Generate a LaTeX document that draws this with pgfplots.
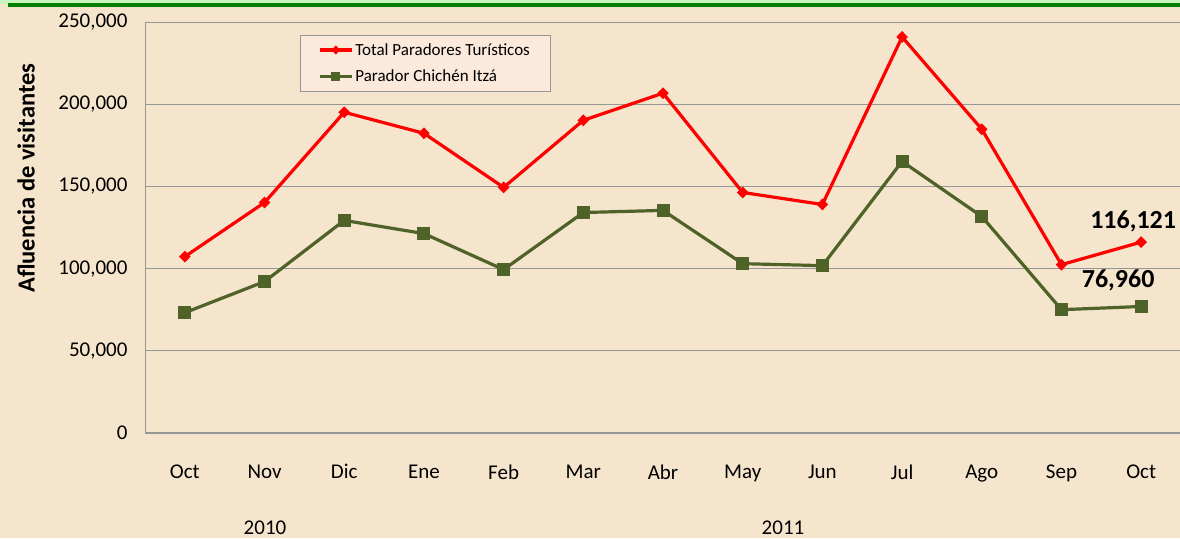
\documentclass[border=0pt]{standalone}
\usepackage{pgfplots}
\pgfplotsset{compat=1.18}
\usepackage{fontspec}
\setmainfont{Carlito}
\definecolor{bg}{RGB}{245,229,204}
\definecolor{olivec}{RGB}{79,98,40}
\definecolor{gridc}{RGB}{150,150,150}
\definecolor{legbg}{RGB}{251,234,220}
\definecolor{lgreen}{RGB}{200,245,190}
\definecolor{dgreen}{RGB}{0,128,0}
\begin{document}
\begin{tikzpicture}
\useasboundingbox (0pt,0pt) rectangle (1180pt,538pt);
\fill[bg] (0pt,0pt) rectangle (1180pt,538pt);
\fill[lgreen] (0pt,534pt) rectangle (1180pt,538pt);
\fill[dgreen] (8pt,531pt) rectangle (1180pt,534.5pt);
\begin{axis}[
  at={(145pt,105pt)}, anchor=south west,
  scale only axis, width=1036pt, height=411pt,
  xmin=-0.5, xmax=12.5, ymin=0, ymax=250000,
  xtick={0,...,12},
  xticklabels={Oct,Nov,Dic,Ene,Feb,Mar,Abr,May,Jun,Jul,Ago,Sep,Oct},
  ytick={0,50000,100000,150000,200000,250000},
  scaled y ticks=false,
  /pgf/number format/fixed,
  /pgf/number format/1000 sep={,},
  /pgf/number format/assume math mode=true,
  axis x line*=bottom, axis y line*=left,
  axis line style={draw=gridc, line width=1pt, -},
  major tick length=0pt,
  ymajorgrids, grid style={draw=gridc, line width=0.8pt},
  tick label style={font=\fontsize{21}{24}\selectfont},
  yticklabel style={xshift=-14pt},
  xticklabel style={yshift=-28pt},
  ylabel={\bfseries Afluencia de visitantes},
  every axis y label/.style={at={(-119pt,0.62)}, rotate=90, anchor=center, font=\fontsize{24.5}{28}\selectfont},
  clip=false,
  legend style={at={(rel axis cs:0.1496,0.968)}, anchor=north west,
    draw=gridc, fill=legbg, font=\fontsize{17}{20}\selectfont,
    inner xsep=18pt, inner ysep=6pt, row sep=9pt},
  legend cell align=left,
  legend image code/.code={\draw[mark repeat=2,mark phase=2,mark size=3.8pt] plot coordinates {(0pt,0pt)(16pt,0pt)(32pt,0pt)};},
]
\addplot[red, line width=3.2pt, mark=diamond*, mark size=5.2pt, mark options={fill=red, draw=red, line width=1pt, xscale=1.3}]
coordinates {(0,107300)(1,140200)(2,195100)(3,182300)(4,149400)(5,190200)(6,206700)(7,146300)(8,139000)(9,240900)(10,184800)(11,102400)(12,116121)};
\addlegendentry{Total Paradores Turísticos}
\addplot[olivec, line width=3.2pt, mark=square*, mark size=6pt, mark options={fill=olivec, draw=olivec, line width=1pt}]
coordinates {(0,73200)(1,92100)(2,129300)(3,121300)(4,99400)(5,134100)(6,135400)(7,103000)(8,101800)(9,165200)(10,131700)(11,75000)(12,76960)};
\addlegendentry{Parador Chichén Itzá}
\node[font=\fontsize{26}{30}\selectfont\bfseries] at ([xshift=-8pt,yshift=21pt]axis cs:12,116121) {116,121};
\node[font=\fontsize{26}{30}\selectfont\bfseries] at ([xshift=-23pt,yshift=26pt]axis cs:12,76960) {76,960};
\end{axis}
\node[font=\fontsize{21}{24}\selectfont] at (265pt,10pt) {2010};
\node[font=\fontsize{21}{24}\selectfont] at (783pt,10pt) {2011};
\end{tikzpicture}
\end{document}
